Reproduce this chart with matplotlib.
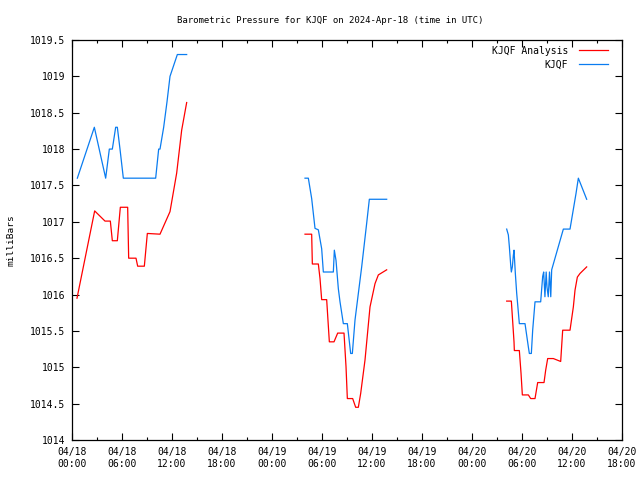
import numpy as np
import pandas as pd
import matplotlib
matplotlib.use('Agg')
import matplotlib.pyplot as plt
import matplotlib.dates as mdates
from matplotlib.ticker import MultipleLocator

# hours after 2024-04-18 00:00 UTC, NaN marks a gap in the record
obs_hours = [0.64, 2.68, 4.04, 4.48, 4.84, 5.24, 5.44, 5.76, 6.16, 10.04, 10.4, 10.56,
             11.0, 11.4, 11.76, 12.2, 12.64, 13.76, np.nan,
             27.96, 28.36, 28.76, 29.16, 29.56, 29.96, 30.16, 31.36, 31.48, 31.68, 31.96,
             32.16, 32.56, 33.04, 33.44, 33.64, 33.96, 34.76, 35.36, 35.68, 37.76, np.nan,
             52.16, 52.36, 52.48, 52.64, 52.72, 52.84, 52.96, 53.04, 53.2, 53.36, 53.68,
             54.36, 54.76, 54.88, 55.12, 55.28, 55.56, 56.24, 56.48, 56.6, 56.75, 56.9,
             57.0, 57.15, 57.3, 57.45, 57.56, 58.96, 59.76, 60.48, 60.76, 61.76]
obs_mb = [1017.6, 1018.3, 1017.6, 1018.0, 1018.0, 1018.3, 1018.3, 1018.0, 1017.6, 1017.6, 1018.0, 1018.0,
          1018.3, 1018.65, 1019.0, 1019.15, 1019.3, 1019.3, np.nan,
          1017.6, 1017.6, 1017.32, 1016.91, 1016.89, 1016.63, 1016.31, 1016.31, 1016.61, 1016.47, 1016.08,
          1015.9, 1015.6, 1015.6, 1015.19, 1015.19, 1015.65, 1016.38, 1016.98, 1017.31, 1017.31, np.nan,
          1016.9, 1016.82, 1016.66, 1016.41, 1016.31, 1016.38, 1016.54, 1016.61, 1016.29, 1016.02, 1015.6,
          1015.6, 1015.28, 1015.19, 1015.19, 1015.51, 1015.9, 1015.9, 1016.25, 1016.31, 1015.97, 1016.31,
          1016.1, 1015.97, 1016.31, 1015.97, 1016.34, 1016.9, 1016.9, 1017.39, 1017.6, 1017.31]

ana_hours = [0.6, 2.72, 3.96, 4.6, 4.84, 5.44, 5.8, 6.68, 6.8, 7.68, 7.88, 8.68, 9.04, 10.56,
             11.76, 12.56, 13.16, 13.76, np.nan,
             27.96, 28.76, 28.84, 29.56, 29.76, 29.96, 30.56, 30.88, 31.44, 31.88, 32.64, 32.88,
             33.04, 33.68, 34.04, 34.36, 34.64, 35.16, 35.76, 36.36, 36.76, 37.76, np.nan,
             52.16, 52.72, 53.04, 53.08, 53.68, 53.88, 54.04, 54.76, 55.04, 55.56, 55.88, 56.64,
             56.84, 57.08, 57.76, 58.64, 58.88, 59.76, 60.16, 60.36, 60.64, 60.96, 61.76]
ana_mb = [1015.95, 1017.15, 1017.01, 1017.01, 1016.74, 1016.74, 1017.2, 1017.2, 1016.5, 1016.5, 1016.39,
          1016.39, 1016.84, 1016.83, 1017.14, 1017.67, 1018.26, 1018.64, np.nan,
          1016.83, 1016.83, 1016.42, 1016.42, 1016.22, 1015.93, 1015.93, 1015.35, 1015.35, 1015.47, 1015.47,
          1015.01, 1014.57, 1014.57, 1014.45, 1014.45, 1014.64, 1015.1, 1015.83, 1016.15, 1016.27, 1016.34, np.nan,
          1015.91, 1015.91, 1015.35, 1015.23, 1015.23, 1014.92, 1014.62, 1014.62, 1014.57, 1014.57, 1014.79,
          1014.79, 1014.96, 1015.12, 1015.12, 1015.08, 1015.51, 1015.51, 1015.83, 1016.06, 1016.24, 1016.29, 1016.38]

start = pd.Timestamp('2024-04-18 00:00')
end = pd.Timestamp('2024-04-20 18:00')


def to_times(hours):
    return start + pd.to_timedelta(np.array(hours), unit='h')


plt.rcParams['font.family'] = 'DejaVu Sans Mono'
fig = plt.figure(figsize=(6.4, 4.8), dpi=100)
ax = fig.add_axes([0.1125, 0.0833, 0.8594, 0.8334])

ax.plot(to_times(ana_hours), ana_mb, color='#ff0000', lw=0.9, label='KJQF Analysis')
ax.plot(to_times(obs_hours), obs_mb, color='#0a7cf0', lw=0.9, label='KJQF')

ax.set_xlim(start, end)
ax.set_ylim(1014, 1019.5)
ax.xaxis.set_major_locator(mdates.HourLocator(byhour=[0, 6, 12, 18]))
ax.xaxis.set_minor_locator(mdates.HourLocator(byhour=[3, 9, 15, 21]))
ax.xaxis.set_major_formatter(mdates.DateFormatter('%m/%d\n%H:%M'))
ax.yaxis.set_major_locator(MultipleLocator(0.5))
ax.yaxis.set_major_formatter(plt.FuncFormatter(lambda v, p: f'{v:g}'))

ax.tick_params(which='both', direction='in', top=True, right=True, labelsize=7, width=0.8)
ax.tick_params(which='major', length=5, pad=5)
ax.tick_params(which='minor', length=2.5)
for s in ax.spines.values():
    s.set_linewidth(0.9)

# gnuplot centres the title on the canvas, not the plot box
ax.set_title('Barometric Pressure for KJQF on 2024-Apr-18 (time in UTC)', fontsize=6.5, pad=12, x=0.469)
ax.set_ylabel('milliBars', fontsize=6.8, labelpad=10)

leg = ax.legend(loc='upper right', frameon=False, markerfirst=False, fontsize=7,
                handlelength=3.0, handletextpad=1.1, labelspacing=0.35,
                borderaxespad=0.2, bbox_to_anchor=(0.985, 1.0))

fig.savefig('out.png', dpi=100)
